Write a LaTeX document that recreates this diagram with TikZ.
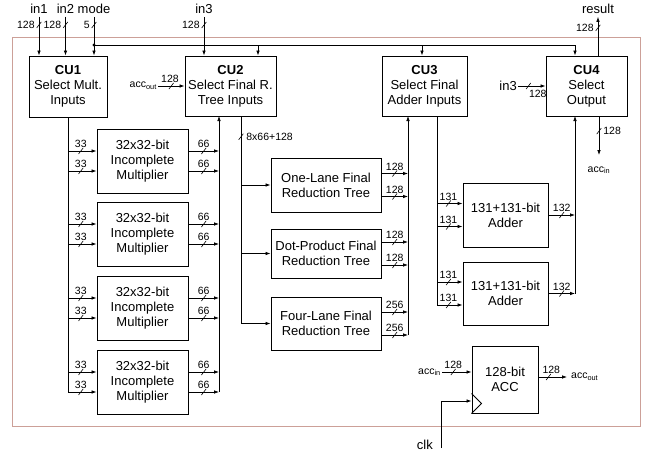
\documentclass[tikz,border=0pt]{standalone}
\usepackage{fontspec}
\setmainfont{Liberation Sans}
\usetikzlibrary{arrows.meta}

\definecolor{framecol}{RGB}{204,160,152}
\newcommand{\accsig}[1]{acc\textsubscript{#1}}

\tikzset{
  blk/.style={draw, line width=1pt, align=center, inner sep=0pt, font=\fontsize{13}{15}\selectfont},
  bus/.style={line width=0.75pt},
  sig/.style={bus, -{Latex[length=5pt,width=3.6pt]}},
  wlab/.style={font=\fontsize{10.5}{12}\selectfont, inner sep=1pt},
  iolab/.style={font=\fontsize{13}{15}\selectfont, inner sep=1pt},
  acclab/.style={font=\fontsize{10.5}{12}\selectfont, inner sep=1pt},
  slash/.pic={\draw[-, shorten <=0pt, shorten >=0pt, line width=0.6pt] (-2.3pt,-3pt) -- (2.3pt,3pt);},
}

\begin{document}
\begin{tikzpicture}[x=1pt, y=-1pt]
    \useasboundingbox (0,0) rectangle (649,458);
    \draw[framecol, line width=0.8pt] (12,37) rectangle (640,426);

    \node[blk, minimum width=78pt, minimum height=61pt] (CU1) at (68,86.5) {\textbf{CU1}\\Select Mult.\\Inputs};
    \node[blk, minimum width=91pt, minimum height=60pt] (CU2) at (230.5,86) {\textbf{CU2}\\Select Final R.\\Tree Inputs};
    \node[blk, minimum width=85pt, minimum height=60pt] (CU3) at (424.5,86) {\textbf{CU3}\\Select Final\\Adder Inputs};
    \node[blk, minimum width=81pt, minimum height=60pt] (CU4) at (586.5,86) {\textbf{CU4}\\Select\\Output};

    \foreach \i/\y in {1/161,2/234,3/308,4/382}
        \node[blk, minimum width=91pt, minimum height=64pt] (M\i) at (142.5,\y) {32x32-bit\\Incomplete\\Multiplier};

    \node[blk, minimum width=110pt, minimum height=54pt] (T1) at (326,185) {One-Lane Final\\Reduction Tree};
    \node[blk, minimum width=110pt, minimum height=49pt] (T2) at (326,253.5) {Dot-Product Final\\Reduction Tree};
    \node[blk, minimum width=110pt, minimum height=53pt] (T3) at (326,323.5) {Four-Lane Final\\Reduction Tree};

    \node[blk, minimum width=85pt, minimum height=64pt] (A1) at (505.5,215) {131+131-bit\\Adder};
    \node[blk, minimum width=85pt, minimum height=63pt] (A2) at (505.5,293.5) {131+131-bit\\Adder};

    \node[blk, minimum width=66pt, minimum height=67pt] (ACC) at (505,379.5) {128-bit\\ACC};

    \coordinate (cu2in) at (219,116);
    \coordinate (cu2out) at (241,116);
    \coordinate (cu3in) at (408,116);
    \coordinate (cu3out) at (437,116);
    \coordinate (cu4in) at (575,116);

    % top inputs and mode bus
    \node[iolab, anchor=base] (in1) at (39,13.5) {in1};
    \node[iolab, anchor=base] (in2) at (65.5,13.5) {in2};
    \node[iolab, anchor=base] (mode) at (94,13.5) {mode};
    \node[iolab, anchor=base] (in3) at (204,13.5) {in3};
    \node[iolab, anchor=base] (result) at (598,13.5) {result};

    \draw[sig, shorten <=2pt] (in1.south) -- pic[pos=.25]{slash} node[wlab, pos=.25, left=3pt] {128} (in1.south |- CU1.north);
    \draw[sig, shorten <=2pt] (in2.south) -- pic[pos=.25]{slash} node[wlab, pos=.25, left=3pt] {128} (in2.south |- CU1.north);
    \draw[sig, shorten <=2pt] (mode.south) -- pic[pos=.25]{slash} node[wlab, pos=.25, left=3pt] {5} (mode.south |- CU1.north);
    \draw[sig, shorten <=2pt] (in3.south) -- pic[pos=.25]{slash} node[wlab, pos=.25, left=3pt] {128} (in3.south |- CU2.north);

    \coordinate (mb) at (94,45);
    \coordinate (mb2) at (258,45);
    \coordinate (mb3) at (422,45);
    \coordinate (mb4) at (575,45);
    \fill (mb) circle (1.6pt);
    \draw[sig] (mb) -- (mb4) -- (mb4 |- CU4.north);
    \draw[sig] (mb2) -- (mb2 |- CU2.north);
    \draw[sig] (mb3) -- (mb3 |- CU3.north);

    \node[acclab, anchor=east] (accoutL) at (158,86) {\accsig{out}};
    \draw[sig] (accoutL.east) -- pic[pos=.5]{slash} node[wlab, pos=.45, above=2pt] {128} (CU2.west);

    % multipliers
    \coordinate (m4lo) at ([yshift=-10pt]M4.west);
    \draw[bus] (CU1.south) -- (m4lo -| CU1.south);
    \foreach \i in {1,...,4}
        \foreach \dy in {10,-10}{
            \coordinate (p) at ([yshift=\dy pt]M\i.west);
            \coordinate (q) at ([yshift=\dy pt]M\i.east);
            \draw[sig] (p -| CU1.south) -- pic[pos=.45]{slash} node[wlab, pos=.45, above=2pt] {33} (p);
            \draw[sig] (q) -- pic[pos=.5]{slash} node[wlab, pos=.5, above=2pt] {66} (q -| cu2in);
        }
    \draw[sig] (m4lo -| cu2in) -- (cu2in);

    % reduction trees
    \draw[bus] (cu2out) -- pic[pos=.1]{slash} node[wlab, pos=.1, right=4pt] {8x66+128} (cu2out |- T3.west);
    \foreach \i in {1,2,3}
        \draw[sig] (cu2out |- T\i.west) -- (T\i.west);
    \foreach \i/\w in {1/128,2/128,3/256}
        \foreach \dy in {11.5,-11.5}{
            \coordinate (p) at ([yshift=\dy pt]T\i.east);
            \draw[sig] (p) -- pic[pos=.5]{slash} node[wlab, pos=.5, above=2pt] {\w} (p -| cu3in);
        }
    \coordinate (t3lo) at ([yshift=-11.5pt]T3.east);
    \draw[sig] (t3lo -| cu3in) -- (cu3in);

    % adders
    \coordinate (a2lo) at ([yshift=-11.5pt]A2.west);
    \draw[bus] (cu3out) -- (a2lo -| cu3out);
    \foreach \i in {1,2}
        \foreach \dy in {11.5,-11.5}{
            \coordinate (p) at ([yshift=\dy pt]A\i.west);
            \draw[sig] (p -| cu3out) -- pic[pos=.45]{slash} node[wlab, pos=.45, above=2pt] {131} (p);
        }
    \foreach \i in {1,2}
        \draw[sig] (A\i.east) -- pic[pos=.5]{slash} node[wlab, pos=.5, above=2pt] {132} (A\i.east -| cu4in);
    \draw[sig] (A2.east -| cu4in) -- (cu4in);

    % output unit
    \draw[sig, shorten >=2pt] (result.south |- CU4.north) -- pic[pos=.68]{slash} node[wlab, pos=.68, left=3pt] {128} (result.south);
    \node[iolab, anchor=east] (in3R) at (518,86) {in3};
    \draw[sig] (in3R.east) -- pic[pos=.38]{slash} node[wlab, pos=.72, below=3pt] {128} (CU4.west);
    \coordinate (cu4out) at (599,155);
    \draw[sig] (CU4.south -| cu4out) -- pic[pos=.38]{slash} node[wlab, pos=.38, right=3pt] {128} (cu4out);
    \node[acclab] (accinR) at (599,170) {\accsig{in}};

    % accumulator
    \draw[bus] (ACC.south west) ++(0,-20) -- ++(10,10) -- ++(-10,10);
    \node[acclab, anchor=east] (accinL) at (442,372) {\accsig{in}};
    \draw[sig] (accinL.east) -- pic[pos=.38]{slash} node[wlab, pos=.38, above=2pt] {128} (accinL.east -| ACC.west);
    \coordinate (accoutE) at (567,377);
    \draw[sig] (ACC.east |- accoutE) -- pic[pos=.35]{slash} node[wlab, pos=.45, above=2pt] {128} (accoutE);
    \node[acclab, anchor=west] (accoutR) at (570,377) {\accsig{out}};

    \node[iolab, anchor=east] (clk) at (434,445) {clk};
    \coordinate (clkin) at (441,448);
    \coordinate (clkbend) at (441,401);
    \draw[sig] (clkin) -- (clkbend) -- (clkbend -| ACC.west);
\end{tikzpicture}
\end{document}
